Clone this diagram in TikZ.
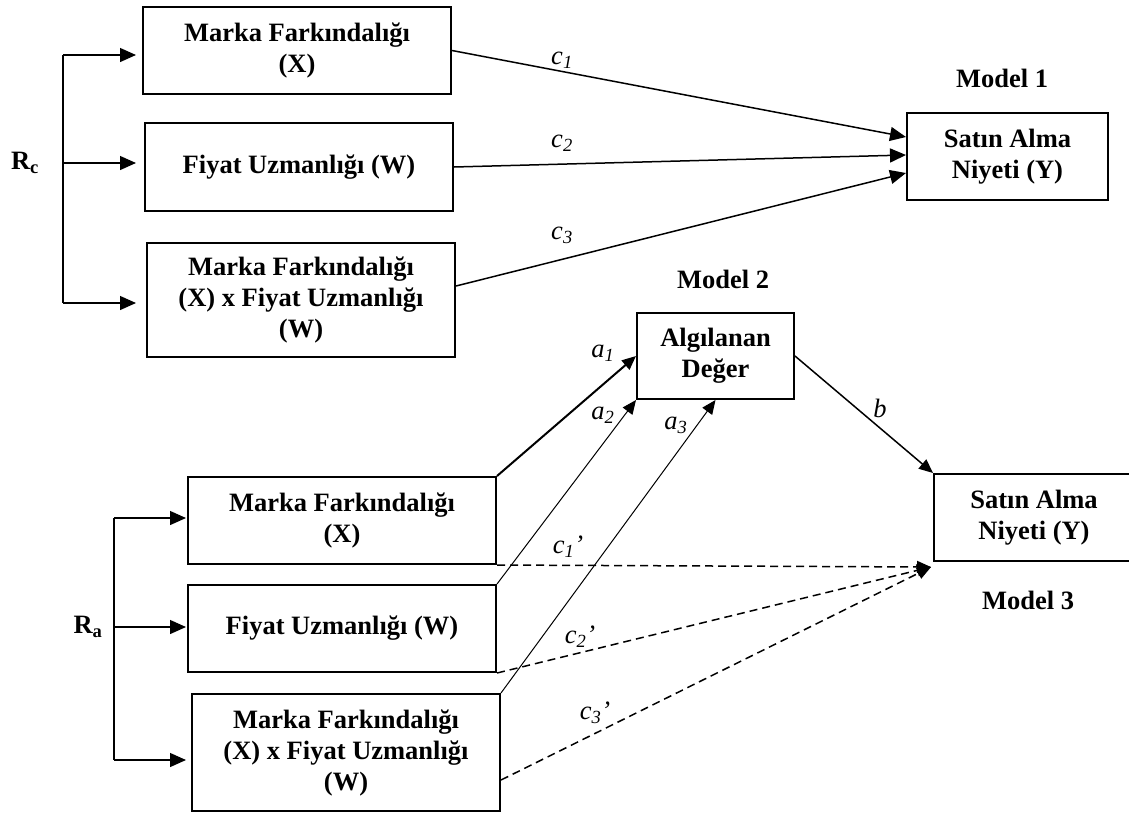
\documentclass[tikz,border=0pt]{standalone}
\usepackage{fontspec}
\setmainfont{Liberation Serif}
\usetikzlibrary{arrows.meta,calc}
\newcommand\diagfont{\fontsize{26.5}{31}\selectfont}

\begin{document}
\begin{tikzpicture}[x=1pt,y=-1pt,
  box/.style={draw, line width=2pt, inner sep=0pt, align=center, font=\diagfont\bfseries},
  lab/.style={font=\diagfont\itshape, inner sep=0pt},
  title/.style={font=\diagfont\bfseries, inner sep=0pt},
  arr/.style={-{Triangle[length=16pt,width=14pt]}},
  sarr/.style={-{Triangle[length=14pt,width=12pt]}},
  brace/.style={line width=1.3pt},
  dline/.style={line width=1.5pt, dash pattern=on 8pt off 5pt},
]
\useasboundingbox (0,0) rectangle (1129,814);
\clip (0,0) rectangle (1129,814);

% ---------- Model 1 ----------
\node[box, minimum width=308pt, minimum height=87pt]  (tX)  at (297,50.5) {Marka Farkındalığı\\(X)};
\node[box, minimum width=308pt, minimum height=88pt]  (tW)  at (299,167)  {Fiyat Uzmanlığı (W)};
\node[box, minimum width=308pt, minimum height=114pt] (tXW) at (301,300)  {Marka Farkındalığı\\(X) x Fiyat Uzmanlığı\\(W)};
\node[box, minimum width=201pt, minimum height=87pt]  (tY)  at (1007.5,156.5) {Satın Alma\\Niyeti (Y)};
\node[title] (m1) at (1002,78) {Model 1};

\node[title] (Rc) at (25,163) {R\textsubscript{c}};
\coordinate (rcA) at (63,55);
\coordinate (rcB) at (63,163);
\coordinate (rcC) at (63,303);
\draw[brace] (rcA) -- (rcC);
\draw[brace, arr, shorten >=6pt]  (rcA) -- (rcA -| tX.west);
\draw[brace, arr, shorten >=8pt]  (rcB) -- (rcB -| tW.west);
\draw[brace, arr, shorten >=10pt] (rcC) -- (rcC -| tXW.west);

\draw[line width=1.5pt, arr] (tX.east) -- ($(tY.west)+(0,-19.5)$);
\draw[line width=1.5pt, arr] (tW.east) -- ($(tY.west)+(0,-1.5)$);
\draw[line width=1.5pt, arr] ($(tXW.east)+(0,-14)$) -- ($(tY.west)+(0,16.5)$);
\node[lab] (lc1) at (562,60)  {c\textsubscript{1}};
\node[lab] (lc2) at (562,143) {c\textsubscript{2}};
\node[lab] (lc3) at (562,235) {c\textsubscript{3}};

% ---------- Models 2 and 3 ----------
\node[title] (m2) at (723,279) {Model 2};
\node[box, minimum width=157pt, minimum height=86pt]  (M)   at (715.5,356) {Algılanan\\Değer};
\node[box, minimum width=308pt, minimum height=87pt]  (bX)  at (342,520.5) {Marka Farkındalığı\\(X)};
\node[box, minimum width=308pt, minimum height=87pt]  (bW)  at (342,628.5) {Fiyat Uzmanlığı (W)};
\node[box, minimum width=308pt, minimum height=117pt] (bXW) at (346,752.5) {Marka Farkındalığı\\(X) x Fiyat Uzmanlığı\\(W)};
\node[box, minimum width=200pt, minimum height=87pt]  (bY)  at (1034,517.5) {Satın Alma\\Niyeti (Y)};
\node[title] (m3) at (1028,600) {Model 3};

\node[title] (Ra) at (88,627) {R\textsubscript{a}};
\coordinate (raA) at (114,518);
\coordinate (raB) at (114,627);
\coordinate (raC) at (114,760);
\draw[brace] (raA) -- (raC);
\draw[brace, arr, shorten >=1pt] (raA) -- (raA -| bX.west);
\draw[brace, arr, shorten >=1pt] (raB) -- (raB -| bW.west);
\draw[brace, arr, shorten >=5pt] (raC) -- (raC -| bXW.west);

\draw[line width=2pt, sarr] (bX.north east) -- (M.west);
\draw[line width=1pt, sarr] (bW.north east) -- (M.south west);
\draw[line width=1pt, sarr] (bXW.north east) -- (M.south);
\draw[line width=1.5pt, sarr] (M.east) -- (bY.north west);

\coordinate (tipY) at ($(bY.south west)+(-2,5)$);
\draw[dline, sarr] (bX.south east) -- (tipY);
\draw[dline, sarr] (bW.south east) -- (tipY);
\draw[dline, sarr] ($(bXW.east)+(0,27.5)$) -- (tipY);

\node[lab] (la1) at (603,353) {a\textsubscript{1}};
\node[lab] (la2) at (603,415) {a\textsubscript{2}};
\node[lab] (la3) at (676,425) {a\textsubscript{3}};
\node[lab] (lb)  at (880,408) {b};
\node[lab] (lc1p) at (568,547) {c\textsubscript{1}’};
\node[lab] (lc2p) at (580,637) {c\textsubscript{2}’};
\node[lab] (lc3p) at (595,713) {c\textsubscript{3}’};
\end{tikzpicture}
\end{document}
